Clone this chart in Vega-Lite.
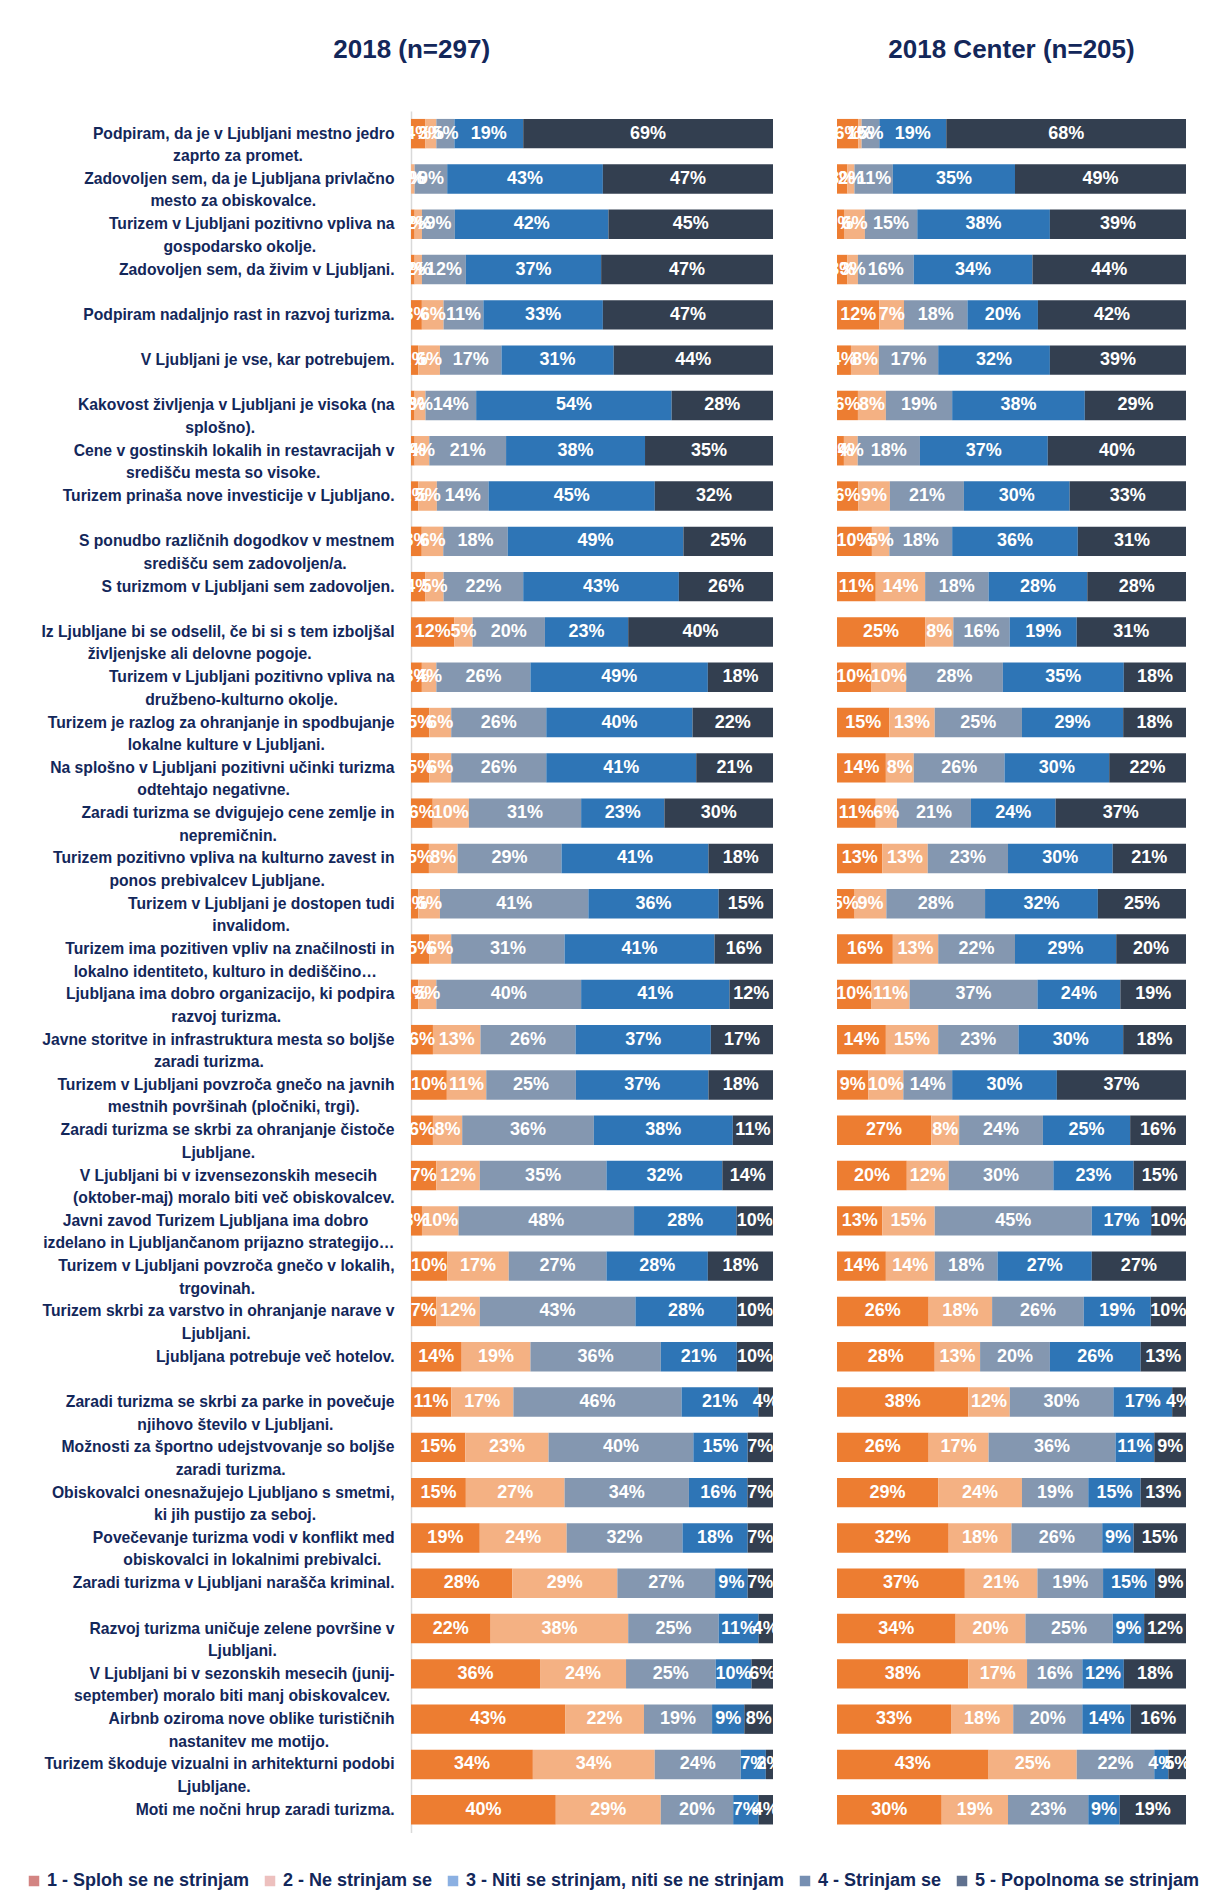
{
  "$schema": "https://vega.github.io/schema/vega-lite/v6.json",
  "padding": {"left": 25, "top": 37, "right": 0, "bottom": 0},
  "background": "white",
  "config": {
    "view": {"stroke": null},
    "title": {"font": "Liberation Sans", "fontSize": 26, "fontWeight": "bold", "color": "#13275A"},
    "legend": {
      "orient": "none", "legendX": -386, "legendY": 1761, "direction": "horizontal", "title": null,
      "symbolType": "square", "symbolSize": 110, "symbolStrokeWidth": 0,
      "labelFont": "Liberation Sans", "labelFontSize": 18, "labelFontWeight": "bold",
      "labelColor": "#13275A", "labelLimit": 500, "columnPadding": 11
    }
  },
  "datasets": {
    "d": [
      {"s": "Podpiram, da je v Ljubljani mestno jedro|zaprto za promet.", "p": "L", "c1": 4, "c2": 3, "c3": 5, "c4": 19, "c5": 69},
      {"s": "Zadovoljen sem, da je Ljubljana privlačno|mesto za obiskovalce.", "p": "L", "c1": 0, "c2": 1, "c3": 9, "c4": 43, "c5": 47},
      {"s": "Turizem v Ljubljani pozitivno vpliva na|gospodarsko okolje.", "p": "L", "c1": 1, "c2": 2, "c3": 9, "c4": 42, "c5": 45},
      {"s": "Zadovoljen sem, da živim v Ljubljani.", "p": "L", "c1": 1, "c2": 2, "c3": 12, "c4": 37, "c5": 47},
      {"s": "Podpiram nadaljnjo rast in razvoj turizma.", "p": "L", "c1": 3, "c2": 6, "c3": 11, "c4": 33, "c5": 47},
      {"s": "V Ljubljani je vse, kar potrebujem.", "p": "L", "c1": 2, "c2": 6, "c3": 17, "c4": 31, "c5": 44},
      {"s": "Kakovost življenja v Ljubljani je visoka (na|splošno).", "p": "L", "c1": 1, "c2": 3, "c3": 14, "c4": 54, "c5": 28},
      {"s": "Cene v gostinskih lokalih in restavracijah v|središču mesta so visoke.", "p": "L", "c1": 1, "c2": 4, "c3": 21, "c4": 38, "c5": 35},
      {"s": "Turizem prinaša nove investicije v Ljubljano.", "p": "L", "c1": 2, "c2": 5, "c3": 14, "c4": 45, "c5": 32},
      {"s": "S ponudbo različnih dogodkov v mestnem|središču sem zadovoljen/a.", "p": "L", "c1": 3, "c2": 6, "c3": 18, "c4": 49, "c5": 25},
      {"s": "S turizmom v Ljubljani sem zadovoljen.", "p": "L", "c1": 4, "c2": 5, "c3": 22, "c4": 43, "c5": 26},
      {"s": "Iz Ljubljane bi se odselil, če bi si s tem izboljšal|življenjske ali delovne pogoje.", "p": "L", "c1": 12, "c2": 5, "c3": 20, "c4": 23, "c5": 40},
      {"s": "Turizem v Ljubljani pozitivno vpliva na|družbeno-kulturno okolje.", "p": "L", "c1": 3, "c2": 4, "c3": 26, "c4": 49, "c5": 18},
      {"s": "Turizem je razlog za ohranjanje in spodbujanje|lokalne kulture v Ljubljani.", "p": "L", "c1": 5, "c2": 6, "c3": 26, "c4": 40, "c5": 22},
      {"s": "Na splošno v Ljubljani pozitivni učinki turizma|odtehtajo negativne.", "p": "L", "c1": 5, "c2": 6, "c3": 26, "c4": 41, "c5": 21},
      {"s": "Zaradi turizma se dvigujejo cene zemlje in|nepremičnin.", "p": "L", "c1": 6, "c2": 10, "c3": 31, "c4": 23, "c5": 30},
      {"s": "Turizem pozitivno vpliva na kulturno zavest in|ponos prebivalcev Ljubljane.", "p": "L", "c1": 5, "c2": 8, "c3": 29, "c4": 41, "c5": 18},
      {"s": "Turizem v Ljubljani  je dostopen tudi|invalidom.", "p": "L", "c1": 2, "c2": 6, "c3": 41, "c4": 36, "c5": 15},
      {"s": "Turizem ima pozitiven vpliv na značilnosti in|lokalno identiteto, kulturo in dediščino…", "p": "L", "c1": 5, "c2": 6, "c3": 31, "c4": 41, "c5": 16},
      {"s": "Ljubljana ima dobro organizacijo, ki podpira|razvoj turizma.", "p": "L", "c1": 2, "c2": 5, "c3": 40, "c4": 41, "c5": 12},
      {"s": "Javne storitve in infrastruktura mesta so boljše|zaradi turizma.", "p": "L", "c1": 6, "c2": 13, "c3": 26, "c4": 37, "c5": 17},
      {"s": "Turizem v Ljubljani povzroča gnečo na javnih|mestnih površinah (pločniki, trgi).", "p": "L", "c1": 10, "c2": 11, "c3": 25, "c4": 37, "c5": 18},
      {"s": "Zaradi turizma se skrbi za ohranjanje čistoče|Ljubljane.", "p": "L", "c1": 6, "c2": 8, "c3": 36, "c4": 38, "c5": 11},
      {"s": "V Ljubljani bi v izvensezonskih mesecih|(oktober-maj) moralo biti več obiskovalcev.", "p": "L", "c1": 7, "c2": 12, "c3": 35, "c4": 32, "c5": 14},
      {"s": "Javni zavod Turizem Ljubljana ima dobro|izdelano in Ljubljančanom prijazno strategijo…", "p": "L", "c1": 3, "c2": 10, "c3": 48, "c4": 28, "c5": 10},
      {"s": "Turizem v Ljubljani povzroča gnečo v lokalih,|trgovinah.", "p": "L", "c1": 10, "c2": 17, "c3": 27, "c4": 28, "c5": 18},
      {"s": "Turizem skrbi za varstvo in ohranjanje narave v|Ljubljani.", "p": "L", "c1": 7, "c2": 12, "c3": 43, "c4": 28, "c5": 10},
      {"s": "Ljubljana potrebuje več hotelov.", "p": "L", "c1": 14, "c2": 19, "c3": 36, "c4": 21, "c5": 10},
      {"s": "Zaradi turizma se skrbi za parke in povečuje|njihovo število v Ljubljani.", "p": "L", "c1": 11, "c2": 17, "c3": 46, "c4": 21, "c5": 4},
      {"s": "Možnosti za športno udejstvovanje so boljše|zaradi turizma.", "p": "L", "c1": 15, "c2": 23, "c3": 40, "c4": 15, "c5": 7},
      {"s": "Obiskovalci onesnažujejo Ljubljano s smetmi,|ki jih pustijo za seboj.", "p": "L", "c1": 15, "c2": 27, "c3": 34, "c4": 16, "c5": 7},
      {"s": "Povečevanje turizma vodi v konflikt med|obiskovalci in lokalnimi prebivalci.", "p": "L", "c1": 19, "c2": 24, "c3": 32, "c4": 18, "c5": 7},
      {"s": "Zaradi turizma v Ljubljani narašča kriminal.", "p": "L", "c1": 28, "c2": 29, "c3": 27, "c4": 9, "c5": 7},
      {"s": "Razvoj turizma uničuje zelene površine v|Ljubljani.", "p": "L", "c1": 22, "c2": 38, "c3": 25, "c4": 11, "c5": 4},
      {"s": "V Ljubljani bi v sezonskih mesecih (junij-|september) moralo biti manj obiskovalcev.", "p": "L", "c1": 36, "c2": 24, "c3": 25, "c4": 10, "c5": 6},
      {"s": "Airbnb oziroma nove oblike turističnih|nastanitev me motijo.", "p": "L", "c1": 43, "c2": 22, "c3": 19, "c4": 9, "c5": 8},
      {"s": "Turizem škoduje vizualni in arhitekturni podobi|Ljubljane.", "p": "L", "c1": 34, "c2": 34, "c3": 24, "c4": 7, "c5": 2},
      {"s": "Moti me nočni hrup zaradi turizma.", "p": "L", "c1": 40, "c2": 29, "c3": 20, "c4": 7, "c5": 4},

      {"s": "Podpiram, da je v Ljubljani mestno jedro|zaprto za promet.", "p": "R", "c1": 6, "c2": 1, "c3": 5, "c4": 19, "c5": 68},
      {"s": "Zadovoljen sem, da je Ljubljana privlačno|mesto za obiskovalce.", "p": "R", "c1": 3, "c2": 2, "c3": 11, "c4": 35, "c5": 49},
      {"s": "Turizem v Ljubljani pozitivno vpliva na|gospodarsko okolje.", "p": "R", "c1": 2, "c2": 6, "c3": 15, "c4": 38, "c5": 39},
      {"s": "Zadovoljen sem, da živim v Ljubljani.", "p": "R", "c1": 3, "c2": 3, "c3": 16, "c4": 34, "c5": 44},
      {"s": "Podpiram nadaljnjo rast in razvoj turizma.", "p": "R", "c1": 12, "c2": 7, "c3": 18, "c4": 20, "c5": 42},
      {"s": "V Ljubljani je vse, kar potrebujem.", "p": "R", "c1": 4, "c2": 8, "c3": 17, "c4": 32, "c5": 39},
      {"s": "Kakovost življenja v Ljubljani je visoka (na|splošno).", "p": "R", "c1": 6, "c2": 8, "c3": 19, "c4": 38, "c5": 29},
      {"s": "Cene v gostinskih lokalih in restavracijah v|središču mesta so visoke.", "p": "R", "c1": 2, "c2": 4, "c3": 18, "c4": 37, "c5": 40},
      {"s": "Turizem prinaša nove investicije v Ljubljano.", "p": "R", "c1": 6, "c2": 9, "c3": 21, "c4": 30, "c5": 33},
      {"s": "S ponudbo različnih dogodkov v mestnem|središču sem zadovoljen/a.", "p": "R", "c1": 10, "c2": 5, "c3": 18, "c4": 36, "c5": 31},
      {"s": "S turizmom v Ljubljani sem zadovoljen.", "p": "R", "c1": 11, "c2": 14, "c3": 18, "c4": 28, "c5": 28},
      {"s": "Iz Ljubljane bi se odselil, če bi si s tem izboljšal|življenjske ali delovne pogoje.", "p": "R", "c1": 25, "c2": 8, "c3": 16, "c4": 19, "c5": 31},
      {"s": "Turizem v Ljubljani pozitivno vpliva na|družbeno-kulturno okolje.", "p": "R", "c1": 10, "c2": 10, "c3": 28, "c4": 35, "c5": 18},
      {"s": "Turizem je razlog za ohranjanje in spodbujanje|lokalne kulture v Ljubljani.", "p": "R", "c1": 15, "c2": 13, "c3": 25, "c4": 29, "c5": 18},
      {"s": "Na splošno v Ljubljani pozitivni učinki turizma|odtehtajo negativne.", "p": "R", "c1": 14, "c2": 8, "c3": 26, "c4": 30, "c5": 22},
      {"s": "Zaradi turizma se dvigujejo cene zemlje in|nepremičnin.", "p": "R", "c1": 11, "c2": 6, "c3": 21, "c4": 24, "c5": 37},
      {"s": "Turizem pozitivno vpliva na kulturno zavest in|ponos prebivalcev Ljubljane.", "p": "R", "c1": 13, "c2": 13, "c3": 23, "c4": 30, "c5": 21},
      {"s": "Turizem v Ljubljani  je dostopen tudi|invalidom.", "p": "R", "c1": 5, "c2": 9, "c3": 28, "c4": 32, "c5": 25},
      {"s": "Turizem ima pozitiven vpliv na značilnosti in|lokalno identiteto, kulturo in dediščino…", "p": "R", "c1": 16, "c2": 13, "c3": 22, "c4": 29, "c5": 20},
      {"s": "Ljubljana ima dobro organizacijo, ki podpira|razvoj turizma.", "p": "R", "c1": 10, "c2": 11, "c3": 37, "c4": 24, "c5": 19},
      {"s": "Javne storitve in infrastruktura mesta so boljše|zaradi turizma.", "p": "R", "c1": 14, "c2": 15, "c3": 23, "c4": 30, "c5": 18},
      {"s": "Turizem v Ljubljani povzroča gnečo na javnih|mestnih površinah (pločniki, trgi).", "p": "R", "c1": 9, "c2": 10, "c3": 14, "c4": 30, "c5": 37},
      {"s": "Zaradi turizma se skrbi za ohranjanje čistoče|Ljubljane.", "p": "R", "c1": 27, "c2": 8, "c3": 24, "c4": 25, "c5": 16},
      {"s": "V Ljubljani bi v izvensezonskih mesecih|(oktober-maj) moralo biti več obiskovalcev.", "p": "R", "c1": 20, "c2": 12, "c3": 30, "c4": 23, "c5": 15},
      {"s": "Javni zavod Turizem Ljubljana ima dobro|izdelano in Ljubljančanom prijazno strategijo…", "p": "R", "c1": 13, "c2": 15, "c3": 45, "c4": 17, "c5": 10},
      {"s": "Turizem v Ljubljani povzroča gnečo v lokalih,|trgovinah.", "p": "R", "c1": 14, "c2": 14, "c3": 18, "c4": 27, "c5": 27},
      {"s": "Turizem skrbi za varstvo in ohranjanje narave v|Ljubljani.", "p": "R", "c1": 26, "c2": 18, "c3": 26, "c4": 19, "c5": 10},
      {"s": "Ljubljana potrebuje več hotelov.", "p": "R", "c1": 28, "c2": 13, "c3": 20, "c4": 26, "c5": 13},
      {"s": "Zaradi turizma se skrbi za parke in povečuje|njihovo število v Ljubljani.", "p": "R", "c1": 38, "c2": 12, "c3": 30, "c4": 17, "c5": 4},
      {"s": "Možnosti za športno udejstvovanje so boljše|zaradi turizma.", "p": "R", "c1": 26, "c2": 17, "c3": 36, "c4": 11, "c5": 9},
      {"s": "Obiskovalci onesnažujejo Ljubljano s smetmi,|ki jih pustijo za seboj.", "p": "R", "c1": 29, "c2": 24, "c3": 19, "c4": 15, "c5": 13},
      {"s": "Povečevanje turizma vodi v konflikt med|obiskovalci in lokalnimi prebivalci.", "p": "R", "c1": 32, "c2": 18, "c3": 26, "c4": 9, "c5": 15},
      {"s": "Zaradi turizma v Ljubljani narašča kriminal.", "p": "R", "c1": 37, "c2": 21, "c3": 19, "c4": 15, "c5": 9},
      {"s": "Razvoj turizma uničuje zelene površine v|Ljubljani.", "p": "R", "c1": 34, "c2": 20, "c3": 25, "c4": 9, "c5": 12},
      {"s": "V Ljubljani bi v sezonskih mesecih (junij-|september) moralo biti manj obiskovalcev.", "p": "R", "c1": 38, "c2": 17, "c3": 16, "c4": 12, "c5": 18},
      {"s": "Airbnb oziroma nove oblike turističnih|nastanitev me motijo.", "p": "R", "c1": 33, "c2": 18, "c3": 20, "c4": 14, "c5": 16},
      {"s": "Turizem škoduje vizualni in arhitekturni podobi|Ljubljane.", "p": "R", "c1": 43, "c2": 25, "c3": 22, "c4": 4, "c5": 5},
      {"s": "Moti me nočni hrup zaradi turizma.", "p": "R", "c1": 30, "c2": 19, "c3": 23, "c4": 9, "c5": 19}
    ]
  },
  "spacing": 44,
  "hconcat": [
    {
      "width": 362,
      "height": {"step": 45.3},
      "title": {"text": "2018 (n=297)", "frame": "bounds", "anchor": "middle", "offset": 48},
      "data": {"name": "d"},
      "transform": [
        {"filter": "datum.p == 'L'"},
        {"fold": ["c1", "c2", "c3", "c4", "c5"], "as": ["cat", "v"]},
        {"stack": "v", "groupby": ["s"], "sort": [{"field": "cat", "order": "ascending"}], "offset": "normalize", "as": ["v0", "v1"]},
        {"calculate": "(datum.v0 + datum.v1) / 2", "as": "mid"},
        {"calculate": "datum.v + '%'", "as": "lab"}
      ],
      "encoding": {
        "y": {
          "field": "s", "type": "nominal", "sort": null,
          "scale": {"paddingInner": 0.35, "paddingOuter": 0.175},
          "axis": {
            "title": null, "ticks": false, "domainColor": "#D9D9D9", "domainWidth": 1.5,
            "labelPadding": 17, "labelFont": "Liberation Sans", "labelFontSize": 15.7,
            "labelFontWeight": "bold", "labelColor": "#13275A", "labelLimit": 500,
            "labelLineHeight": 22.5,
            "labelExpr": "length(split(datum.value, '|')) > 1 ? [pad(split(datum.value, '|')[0], length(split(datum.value, '|')[0]) + round(max(0, length(split(datum.value, '|')[1]) - length(split(datum.value, '|')[0])) * 0.9), '\u00a0') + '\u200b', pad(split(datum.value, '|')[1], length(split(datum.value, '|')[1]) + round(max(0, length(split(datum.value, '|')[0]) - length(split(datum.value, '|')[1])) * 0.9), '\u00a0') + '\u200b'] : datum.value"
          }
        }
      },
      "layer": [
        {
          "mark": {"type": "bar"},
          "encoding": {
            "x": {"field": "v0", "type": "quantitative", "scale": {"domain": [0, 1], "nice": false}, "axis": null},
            "x2": {"field": "v1"},
            "fill": {"field": "cat", "type": "nominal", "scale": {"domain": ["c1", "c2", "c3", "c4", "c5"], "range": ["#ED7D31", "#F4B183", "#8497B0", "#2E75B6", "#333F50"]}, "legend": null}
          }
        },
        {
          "mark": {"type": "text", "font": "Liberation Sans", "fontSize": 18, "fontWeight": "bold", "color": "white", "align": "center", "baseline": "middle"},
          "encoding": {
            "x": {"field": "mid", "type": "quantitative"},
            "text": {"field": "lab", "type": "nominal"}
          }
        },
        {
          "data": {"values": []},
          "mark": {"type": "square"},
          "encoding": {
            "color": {
              "field": "k", "type": "nominal",
              "scale": {
                "domain": ["1 - Sploh se ne strinjam", "2 - Ne strinjam se", "3 - Niti se strinjam, niti se ne strinjam", "4 - Strinjam se", "5 - Popolnoma se strinjam"],
                "range": ["#C0504D", "#E6A5A3", "#5A8FD6", "#3C5F91", "#1C3560"]
              }
            }
          }
        }
      ]
    },
    {
      "width": 349,
      "height": {"step": 45.3},
      "title": {"text": "2018 Center (n=205)", "frame": "group", "anchor": "middle", "offset": 48},
      "data": {"name": "d"},
      "transform": [
        {"filter": "datum.p == 'R'"},
        {"fold": ["c1", "c2", "c3", "c4", "c5"], "as": ["cat", "v"]},
        {"stack": "v", "groupby": ["s"], "sort": [{"field": "cat", "order": "ascending"}], "offset": "normalize", "as": ["v0", "v1"]},
        {"calculate": "(datum.v0 + datum.v1) / 2", "as": "mid"},
        {"calculate": "datum.v + '%'", "as": "lab"}
      ],
      "encoding": {
        "y": {
          "field": "s", "type": "nominal", "sort": null,
          "scale": {"paddingInner": 0.35, "paddingOuter": 0.175},
          "axis": null
        }
      },
      "layer": [
        {
          "mark": {"type": "bar"},
          "encoding": {
            "x": {"field": "v0", "type": "quantitative", "scale": {"domain": [0, 1], "nice": false}, "axis": null},
            "x2": {"field": "v1"},
            "fill": {"field": "cat", "type": "nominal", "scale": {"domain": ["c1", "c2", "c3", "c4", "c5"], "range": ["#ED7D31", "#F4B183", "#8497B0", "#2E75B6", "#333F50"]}, "legend": null}
          }
        },
        {
          "mark": {"type": "text", "font": "Liberation Sans", "fontSize": 18, "fontWeight": "bold", "color": "white", "align": "center", "baseline": "middle"},
          "encoding": {
            "x": {"field": "mid", "type": "quantitative"},
            "text": {"field": "lab", "type": "nominal"}
          }
        }
      ]
    }
  ]
}
